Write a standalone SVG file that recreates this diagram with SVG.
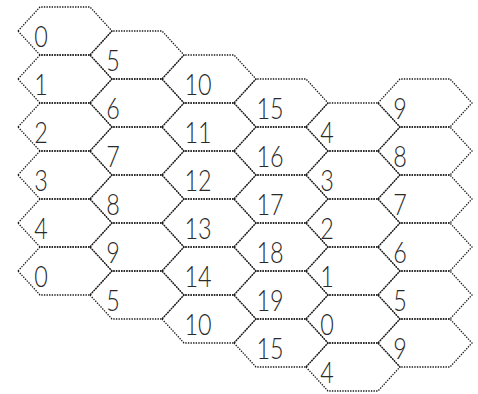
<svg xmlns="http://www.w3.org/2000/svg" xmlns:xlink="http://www.w3.org/1999/xlink" width="478" height="394" viewBox="0 0 478 394">
<style>
.h{fill:none;stroke:#1a1a1a;stroke-width:1.3;stroke-dasharray:1.4 1.2}
.t{font-family:Lato,"Liberation Sans",sans-serif;font-weight:300;font-size:30px;fill:#2a2a2a;text-anchor:middle}
</style>
<defs><polygon id="hex" points="0,0 22,-24 72,-24 94,0 72,24 22,24"/></defs>
<rect width="478" height="394" fill="#fff"/>
<g id="c0r0"><use xlink:href="#hex" href="#hex" class="h" transform="translate(18,31)"/><text class="t" transform="translate(41,47) scale(0.78,1)">0</text></g>
<g id="c0r1"><use xlink:href="#hex" href="#hex" class="h" transform="translate(18,79)"/><text class="t" transform="translate(41,95) scale(0.78,1)">1</text></g>
<g id="c0r2"><use xlink:href="#hex" href="#hex" class="h" transform="translate(18,127)"/><text class="t" transform="translate(41,143) scale(0.78,1)">2</text></g>
<g id="c0r3"><use xlink:href="#hex" href="#hex" class="h" transform="translate(18,175)"/><text class="t" transform="translate(41,191) scale(0.78,1)">3</text></g>
<g id="c0r4"><use xlink:href="#hex" href="#hex" class="h" transform="translate(18,223)"/><text class="t" transform="translate(41,239) scale(0.78,1)">4</text></g>
<g id="c0r5"><use xlink:href="#hex" href="#hex" class="h" transform="translate(18,271)"/><text class="t" transform="translate(41,287) scale(0.78,1)">0</text></g>
<g id="c1r0"><use xlink:href="#hex" href="#hex" class="h" transform="translate(90,55)"/><text class="t" transform="translate(113,71) scale(0.78,1)">5</text></g>
<g id="c1r1"><use xlink:href="#hex" href="#hex" class="h" transform="translate(90,103)"/><text class="t" transform="translate(113,119) scale(0.78,1)">6</text></g>
<g id="c1r2"><use xlink:href="#hex" href="#hex" class="h" transform="translate(90,151)"/><text class="t" transform="translate(113,167) scale(0.78,1)">7</text></g>
<g id="c1r3"><use xlink:href="#hex" href="#hex" class="h" transform="translate(90,199)"/><text class="t" transform="translate(113,215) scale(0.78,1)">8</text></g>
<g id="c1r4"><use xlink:href="#hex" href="#hex" class="h" transform="translate(90,247)"/><text class="t" transform="translate(113,263) scale(0.78,1)">9</text></g>
<g id="c1r5"><use xlink:href="#hex" href="#hex" class="h" transform="translate(90,295)"/><text class="t" transform="translate(113,311) scale(0.78,1)">5</text></g>
<g id="c2r0"><use xlink:href="#hex" href="#hex" class="h" transform="translate(162,79)"/><text class="t" transform="translate(198,95) scale(0.78,1)">10</text></g>
<g id="c2r1"><use xlink:href="#hex" href="#hex" class="h" transform="translate(162,127)"/><text class="t" transform="translate(198,143) scale(0.78,1)">11</text></g>
<g id="c2r2"><use xlink:href="#hex" href="#hex" class="h" transform="translate(162,175)"/><text class="t" transform="translate(198,191) scale(0.78,1)">12</text></g>
<g id="c2r3"><use xlink:href="#hex" href="#hex" class="h" transform="translate(162,223)"/><text class="t" transform="translate(198,239) scale(0.78,1)">13</text></g>
<g id="c2r4"><use xlink:href="#hex" href="#hex" class="h" transform="translate(162,271)"/><text class="t" transform="translate(198,287) scale(0.78,1)">14</text></g>
<g id="c2r5"><use xlink:href="#hex" href="#hex" class="h" transform="translate(162,319)"/><text class="t" transform="translate(198,335) scale(0.78,1)">10</text></g>
<g id="c3r0"><use xlink:href="#hex" href="#hex" class="h" transform="translate(234,103)"/><text class="t" transform="translate(270,119) scale(0.78,1)">15</text></g>
<g id="c3r1"><use xlink:href="#hex" href="#hex" class="h" transform="translate(234,151)"/><text class="t" transform="translate(270,167) scale(0.78,1)">16</text></g>
<g id="c3r2"><use xlink:href="#hex" href="#hex" class="h" transform="translate(234,199)"/><text class="t" transform="translate(270,215) scale(0.78,1)">17</text></g>
<g id="c3r3"><use xlink:href="#hex" href="#hex" class="h" transform="translate(234,247)"/><text class="t" transform="translate(270,263) scale(0.78,1)">18</text></g>
<g id="c3r4"><use xlink:href="#hex" href="#hex" class="h" transform="translate(234,295)"/><text class="t" transform="translate(270,311) scale(0.78,1)">19</text></g>
<g id="c3r5"><use xlink:href="#hex" href="#hex" class="h" transform="translate(234,343)"/><text class="t" transform="translate(270,359) scale(0.78,1)">15</text></g>
<g id="c4r0"><use xlink:href="#hex" href="#hex" class="h" transform="translate(306,127)"/><text class="t" transform="translate(327,143) scale(0.78,1)">4</text></g>
<g id="c4r1"><use xlink:href="#hex" href="#hex" class="h" transform="translate(306,175)"/><text class="t" transform="translate(327,191) scale(0.78,1)">3</text></g>
<g id="c4r2"><use xlink:href="#hex" href="#hex" class="h" transform="translate(306,223)"/><text class="t" transform="translate(327,239) scale(0.78,1)">2</text></g>
<g id="c4r3"><use xlink:href="#hex" href="#hex" class="h" transform="translate(306,271)"/><text class="t" transform="translate(327,287) scale(0.78,1)">1</text></g>
<g id="c4r4"><use xlink:href="#hex" href="#hex" class="h" transform="translate(306,319)"/><text class="t" transform="translate(327,335) scale(0.78,1)">0</text></g>
<g id="c4r5"><use xlink:href="#hex" href="#hex" class="h" transform="translate(306,367)"/><text class="t" transform="translate(327,383) scale(0.78,1)">4</text></g>
<g id="c5r0"><use xlink:href="#hex" href="#hex" class="h" transform="translate(378,103)"/><text class="t" transform="translate(400,119) scale(0.78,1)">9</text></g>
<g id="c5r1"><use xlink:href="#hex" href="#hex" class="h" transform="translate(378,151)"/><text class="t" transform="translate(400,167) scale(0.78,1)">8</text></g>
<g id="c5r2"><use xlink:href="#hex" href="#hex" class="h" transform="translate(378,199)"/><text class="t" transform="translate(400,215) scale(0.78,1)">7</text></g>
<g id="c5r3"><use xlink:href="#hex" href="#hex" class="h" transform="translate(378,247)"/><text class="t" transform="translate(400,263) scale(0.78,1)">6</text></g>
<g id="c5r4"><use xlink:href="#hex" href="#hex" class="h" transform="translate(378,295)"/><text class="t" transform="translate(400,311) scale(0.78,1)">5</text></g>
<g id="c5r5"><use xlink:href="#hex" href="#hex" class="h" transform="translate(378,343)"/><text class="t" transform="translate(400,359) scale(0.78,1)">9</text></g>
<g id="connectors"/>
</svg>
